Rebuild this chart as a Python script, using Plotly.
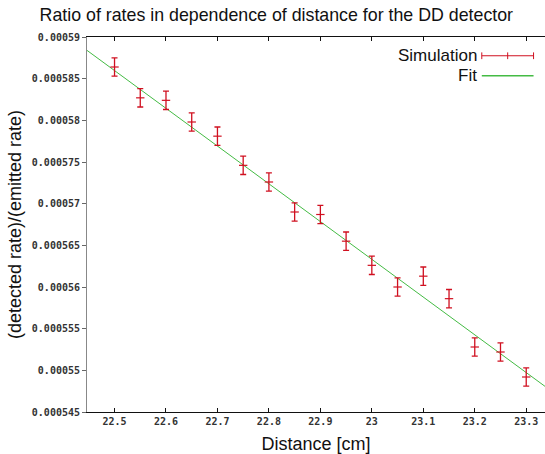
import plotly.graph_objects as go

# ---- data ----
distance = [22.5, 22.55, 22.6, 22.65, 22.7, 22.75, 22.8, 22.85, 22.9,
            22.95, 23.0, 23.05, 23.1, 23.15, 23.2, 23.25, 23.3]
ratio = [0.0005864, 0.0005827, 0.0005824, 0.0005798, 0.0005781, 0.0005746,
         0.0005726, 0.0005690, 0.0005687, 0.0005655, 0.0005626, 0.0005600,
         0.0005613, 0.0005586, 0.0005528, 0.0005522, 0.0005492]
ratio_err = [0.0000011] * 17

fit_x = [22.4, 23.4]
fit_y = [0.0005905, 0.0005452]

x_ticks = [22.5, 22.6, 22.7, 22.8, 22.9, 23.0, 23.1, 23.2, 23.3]
x_tick_labels = ["22.5", "22.6", "22.7", "22.8", "22.9", "23", "23.1", "23.2", "23.3"]
y_ticks = [0.000545, 0.00055, 0.000555, 0.00056, 0.000565,
           0.00057, 0.000575, 0.00058, 0.000585, 0.00059]
y_tick_labels = ["0.000545", "0.00055", "0.000555", "0.00056", "0.000565",
                 "0.00057", "0.000575", "0.00058", "0.000585", "0.00059"]

RED = "#d01020"
GREEN = "#44bb44"

fig = go.Figure()
fig.add_trace(go.Scatter(
    x=fit_x, y=fit_y, mode="lines", name="Fit",
    line=dict(color=GREEN, width=1), showlegend=False))
fig.add_trace(go.Scatter(
    x=distance, y=ratio, mode="markers", name="Simulation",
    marker=dict(symbol="line-ew", size=6, line=dict(color=RED, width=1.2)),
    error_y=dict(type="data", array=ratio_err, color=RED, thickness=1.3, width=3),
    showlegend=False))

tickfont = dict(family="DejaVu Sans Mono", size=10, color="#333333", weight="bold")

fig.update_layout(
    template="none",
    width=545, height=454,
    margin=dict(l=87, r=0, t=37, b=42, autoexpand=False),
    paper_bgcolor="white", plot_bgcolor="white",
    title=dict(text="Ratio of rates in dependence of distance for the DD detector",
               x=0.507, xanchor="center", y=0.967, yanchor="middle",
               font=dict(family="Liberation Sans", size=17.8, color="#111111")),
    xaxis=dict(range=[22.4465, 23.3365], tickvals=x_ticks, ticktext=x_tick_labels,
               ticks="inside", ticklen=4, tickcolor="#111111",
               showline=True, linecolor="#111111", mirror="ticks", showgrid=False,
               zeroline=False, tickfont=tickfont, automargin=False,
               title=dict(text="Distance [cm]", standoff=11,
                          font=dict(family="Liberation Sans", size=18, color="#111111"))),
    yaxis=dict(range=[0.000545, 0.00059], tickvals=y_ticks, ticktext=y_tick_labels,
               ticks="outside", ticklen=4, tickcolor="#666666",
               showline=True, linecolor="#888888", mirror="ticks", showgrid=False,
               zeroline=False, tickfont=tickfont, automargin=False,
               title=dict(text="(detected rate)/(emitted rate)", standoff=5,
                          font=dict(family="Liberation Sans", size=18, color="#111111"))),
)

# legend drawn manually (text left, sample right as in the original)
fig.add_annotation(xref="paper", yref="paper", x=0.855, y=0.95, xanchor="right",
                   yanchor="middle", text="Simulation", showarrow=False,
                   font=dict(family="Liberation Sans", size=17, color="#111111"))
fig.add_annotation(xref="paper", yref="paper", x=0.855, y=0.897, xanchor="right",
                   yanchor="middle", text="Fit", showarrow=False,
                   font=dict(family="Liberation Sans", size=17, color="#111111"))
x0, x1 = 0.862, 0.975
yl = 0.95
fig.add_shape(type="line", xref="paper", yref="paper", x0=x0, x1=x1, y0=yl, y1=yl,
              line=dict(color=RED, width=1))
for xv in (x0, (x0 + x1) / 2, x1):
    fig.add_shape(type="line", xref="paper", yref="paper", x0=xv, x1=xv,
                  y0=yl - 0.009, y1=yl + 0.009, line=dict(color=RED, width=1))
fig.add_shape(type="line", xref="paper", yref="paper", x0=x0, x1=x1, y0=0.897, y1=0.897,
              line=dict(color=GREEN, width=1.5))

fig.write_html("out.html", config={"displayModeBar": False},
               post_script="document.body.style.margin='0';document.body.style.padding='0';")
